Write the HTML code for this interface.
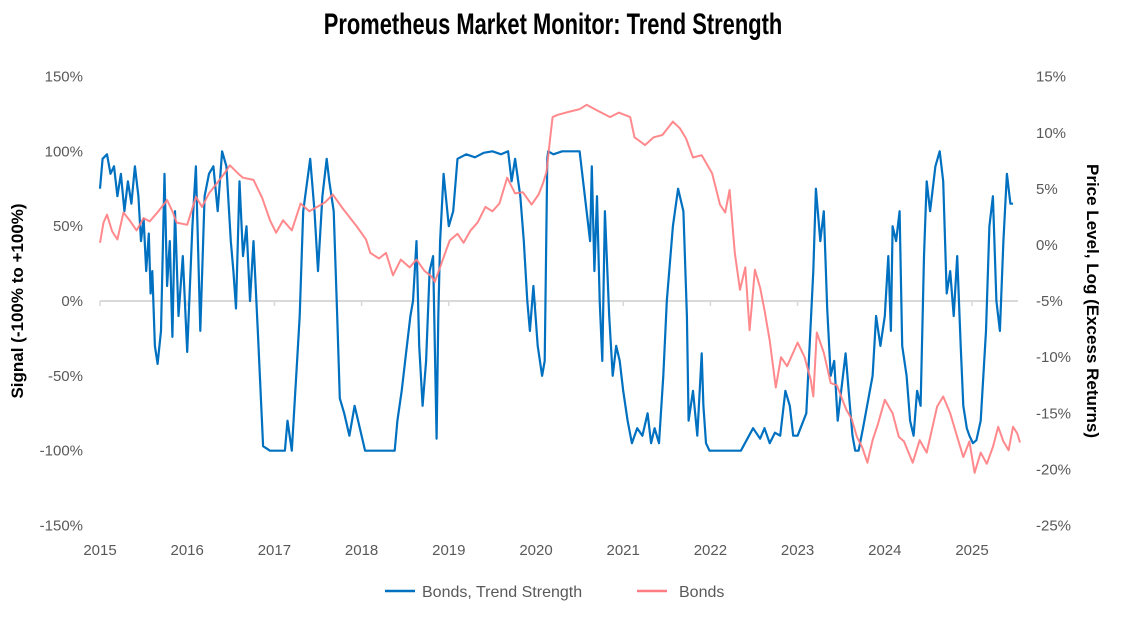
<!DOCTYPE html>
<html><head><meta charset="utf-8"><style>
body{margin:0;background:#fff;width:1122px;height:617px;overflow:hidden;font-family:"Liberation Sans",sans-serif}
svg text{font-family:"Liberation Sans",sans-serif}
</style></head><body>
<svg id="chart" width="1122" height="617" xmlns="http://www.w3.org/2000/svg">
<text x="553" y="34" text-anchor="middle" font-size="30" font-weight="bold" style="font-family:'Liberation Sans Narrow','Liberation Sans',sans-serif" transform="translate(553,0) scale(0.73,1) translate(-553,0)">Prometheus Market Monitor: Trend Strength</text>
<g id="grid"></g>
<g id="series"></g>
<g id="axes"></g>
<text transform="translate(23,301) rotate(-90)" text-anchor="middle" font-size="17" font-weight="bold" fill="#000">Signal (-100% to +100%)</text>
<text transform="translate(1087,301) rotate(90)" text-anchor="middle" font-size="17" font-weight="bold" fill="#000">Price Level, Log (Excess Returns)</text>
<g>
<line x1="385" y1="591" x2="415" y2="591" stroke="#0070c0" stroke-width="2.5"/>
<text x="422" y="597" font-size="16" fill="#595959">Bonds, Trend Strength</text>
<line x1="637" y1="591" x2="667" y2="591" stroke="#ff7c80" stroke-width="2.5"/>
<text x="679" y="597" font-size="16" fill="#595959">Bonds</text>
</g>
</svg>
<script>
const yearTicks=[2015,2016,2017,2018,2019,2020,2021,2022,2023,2024,2025];
const leftTicks=[150,100,50,0,-50,-100,-150];
const rightTicks=[15,10,5,0,-5,-10,-15,-20,-25];
const trendDates=[2015.0,2015.03,2015.08,2015.12,2015.16,2015.2,2015.24,2015.28,2015.32,2015.36,2015.4,2015.44,2015.47,2015.5,2015.53,2015.56,2015.58,2015.6,2015.63,2015.66,2015.7,2015.74,2015.77,2015.8,2015.83,2015.86,2015.9,2015.95,2016.0,2016.06,2016.1,2016.15,2016.2,2016.25,2016.3,2016.35,2016.4,2016.45,2016.5,2016.53,2016.56,2016.6,2016.64,2016.68,2016.72,2016.76,2016.81,2016.87,2016.95,2017.05,2017.12,2017.15,2017.2,2017.26,2017.29,2017.33,2017.41,2017.46,2017.5,2017.55,2017.6,2017.63,2017.68,2017.72,2017.75,2017.8,2017.86,2017.92,2018.0,2018.04,2018.2,2018.38,2018.41,2018.46,2018.52,2018.56,2018.59,2018.63,2018.66,2018.7,2018.74,2018.78,2018.82,2018.86,2018.88,2018.9,2018.94,2019.0,2019.05,2019.1,2019.2,2019.3,2019.4,2019.5,2019.6,2019.68,2019.72,2019.76,2019.82,2019.86,2019.9,2019.93,2019.97,2020.02,2020.07,2020.1,2020.13,2020.14,2020.2,2020.3,2020.4,2020.5,2020.62,2020.64,2020.67,2020.7,2020.73,2020.76,2020.79,2020.84,2020.88,2020.92,2020.96,2021.0,2021.05,2021.1,2021.16,2021.22,2021.28,2021.32,2021.36,2021.41,2021.46,2021.5,2021.57,2021.63,2021.69,2021.73,2021.75,2021.8,2021.85,2021.9,2021.92,2021.95,2021.99,2022.07,2022.2,2022.35,2022.49,2022.57,2022.62,2022.68,2022.74,2022.8,2022.86,2022.91,2022.95,2023.0,2023.1,2023.18,2023.21,2023.26,2023.3,2023.34,2023.38,2023.42,2023.46,2023.5,2023.55,2023.6,2023.63,2023.66,2023.7,2023.75,2023.86,2023.9,2023.95,2024.0,2024.04,2024.07,2024.09,2024.13,2024.17,2024.2,2024.25,2024.29,2024.33,2024.37,2024.41,2024.45,2024.48,2024.52,2024.58,2024.63,2024.67,2024.71,2024.75,2024.79,2024.83,2024.87,2024.9,2024.94,2024.97,2025.01,2025.05,2025.1,2025.16,2025.2,2025.24,2025.28,2025.32,2025.36,2025.4,2025.44,2025.47,2025.51,2025.55];
const trendValues=[75,95,98,85,90,70,85,60,80,65,90,70,40,55,20,45,5,20,-30,-42,-20,85,10,40,-24,60,-10,30,-34,50,90,-20,70,85,90,60,100,90,40,20,-5,80,30,50,0,40,-20,-97,-100,-100,-100,-80,-100,-40,-10,60,95,60,20,70,95,80,60,-10,-65,-75,-90,-70,-90,-100,-100,-100,-80,-60,-30,-10,0,40,-30,-70,-40,20,30,-92,-10,40,85,50,60,95,98,96,99,100,98,100,80,95,70,40,0,-20,10,-30,-50,-40,95,100,98,100,100,100,40,90,20,70,0,-40,60,-10,-50,-30,-40,-60,-80,-95,-85,-90,-75,-95,-85,-95,-50,0,50,75,60,-10,-80,-60,-90,-35,-70,-95,-100,-100,-100,-100,-85,-92,-85,-95,-88,-90,-60,-70,-90,-90,-75,20,75,40,60,-5,-50,-40,-80,-60,-35,-70,-90,-100,-100,-85,-50,-10,-30,-10,30,-20,50,40,60,-30,-50,-80,-90,-60,-70,30,80,60,90,100,80,5,20,-10,30,-30,-70,-85,-90,-95,-93,-80,-20,50,70,0,-20,40,85,65,65];
const bondDates=[2015.0,2015.04,2015.08,2015.14,2015.2,2015.27,2015.34,2015.42,2015.5,2015.57,2015.67,2015.77,2015.83,2015.88,2016.0,2016.1,2016.17,2016.25,2016.34,2016.42,2016.49,2016.58,2016.64,2016.76,2016.86,2016.95,2017.02,2017.1,2017.2,2017.3,2017.4,2017.49,2017.58,2017.67,2017.78,2017.95,2018.05,2018.1,2018.2,2018.28,2018.36,2018.45,2018.55,2018.63,2018.72,2018.8,2018.84,2018.94,2019.01,2019.1,2019.17,2019.25,2019.33,2019.42,2019.5,2019.58,2019.67,2019.76,2019.85,2019.95,2020.03,2020.08,2020.12,2020.16,2020.19,2020.25,2020.39,2020.5,2020.58,2020.7,2020.85,2020.95,2021.08,2021.13,2021.25,2021.35,2021.45,2021.57,2021.65,2021.72,2021.8,2021.9,2022.02,2022.11,2022.17,2022.22,2022.28,2022.34,2022.4,2022.45,2022.51,2022.57,2022.62,2022.68,2022.75,2022.81,2022.88,2023.0,2023.08,2023.15,2023.18,2023.22,2023.3,2023.38,2023.45,2023.56,2023.62,2023.68,2023.74,2023.8,2023.86,2023.92,2024.0,2024.09,2024.16,2024.22,2024.32,2024.4,2024.48,2024.6,2024.67,2024.75,2024.83,2024.9,2024.97,2025.03,2025.1,2025.17,2025.24,2025.3,2025.36,2025.42,2025.47,2025.52,2025.55];
const bondValues=[0.2,2.0,2.7,1.2,0.5,2.9,2.2,1.3,2.4,2.1,3.0,4.0,3.0,2.0,1.8,4.3,3.4,4.6,5.5,6.3,7.1,6.4,6.0,5.8,4.2,2.2,1.1,2.2,1.3,3.7,3.0,3.4,3.8,4.5,3.3,1.6,0.5,-0.7,-1.2,-0.7,-2.7,-1.3,-2.0,-1.3,-2.3,-2.8,-3.3,-1.1,0.4,1.0,0.2,1.3,2.0,3.4,3.0,3.7,6.0,4.6,4.7,3.6,4.5,5.5,6.5,9.4,11.4,11.6,11.9,12.1,12.5,12.0,11.4,11.8,11.4,9.6,8.9,9.6,9.8,11.0,10.4,9.5,7.8,8.0,6.4,3.6,2.9,4.9,-0.7,-4.0,-2.0,-7.6,-2.2,-3.8,-5.8,-8.5,-12.7,-10.0,-10.8,-8.7,-10.0,-12.0,-13.5,-7.8,-9.6,-12.3,-12.5,-14.7,-15.5,-17.1,-18.0,-19.4,-17.4,-16.0,-13.8,-15.0,-17.1,-17.5,-19.4,-17.4,-18.5,-14.4,-13.5,-15.0,-17.1,-18.9,-17.5,-20.3,-18.5,-19.5,-18.0,-16.2,-17.5,-18.3,-16.2,-16.8,-17.6,-17.3];
const X0=100,PXY=87.2;
const x=t=>X0+(t-2015)*PXY;
const yL=v=>301-v*1.4967;
const yR=v=>245-v*11.22;
const NS='http://www.w3.org/2000/svg';
function mk(tag,attrs,parent){const e=document.createElementNS(NS,tag);for(const k in attrs)e.setAttribute(k,attrs[k]);parent.appendChild(e);return e;}
const grid=document.getElementById('grid'),axes=document.getElementById('axes'),series=document.getElementById('series');
const base=mk('line',{x1:x(2015),x2:1018,y1:yL(0),y2:yL(0),stroke:'#d9d9d9','stroke-width':2},grid);


yearTicks.forEach(t=>{
 const tk=mk('line',{x1:x(t),x2:x(t),y1:yL(0),y2:yL(0)+5,stroke:'#d9d9d9','stroke-width':1.5},grid);
 
 
 const tx=mk('text',{x:x(t),y:555,'text-anchor':'middle','font-size':15,fill:'#595959'},axes);
 tx.textContent=t;
 
 
});
leftTicks.forEach(v=>{
 const tx=mk('text',{x:83,y:yL(v)+5,'text-anchor':'end','font-size':15,fill:'#595959'},axes);
 tx.textContent=v+'%';
 
 
});
rightTicks.forEach(v=>{
 const tx=mk('text',{x:1036,y:yR(v)+5,'text-anchor':'start','font-size':15,fill:'#595959'},axes);
 tx.textContent=v+'%';
 
 
});
const tp=trendDates.map((t,i)=>(i?'L':'M')+x(t).toFixed(1)+','+yL(trendValues[i]).toFixed(1)).join('');
const l1=mk('path',{d:tp,fill:'none',stroke:'#0070c0','stroke-width':2.2,'stroke-linejoin':'round'},series);


const bp=bondDates.map((t,i)=>(i?'L':'M')+x(t).toFixed(1)+','+yR(bondValues[i]).toFixed(1)).join('');
const l2=mk('path',{d:bp,fill:'none',stroke:'#ff7c80','stroke-width':2,'stroke-linejoin':'round',opacity:0.9},series);


</script>
</body></html>
